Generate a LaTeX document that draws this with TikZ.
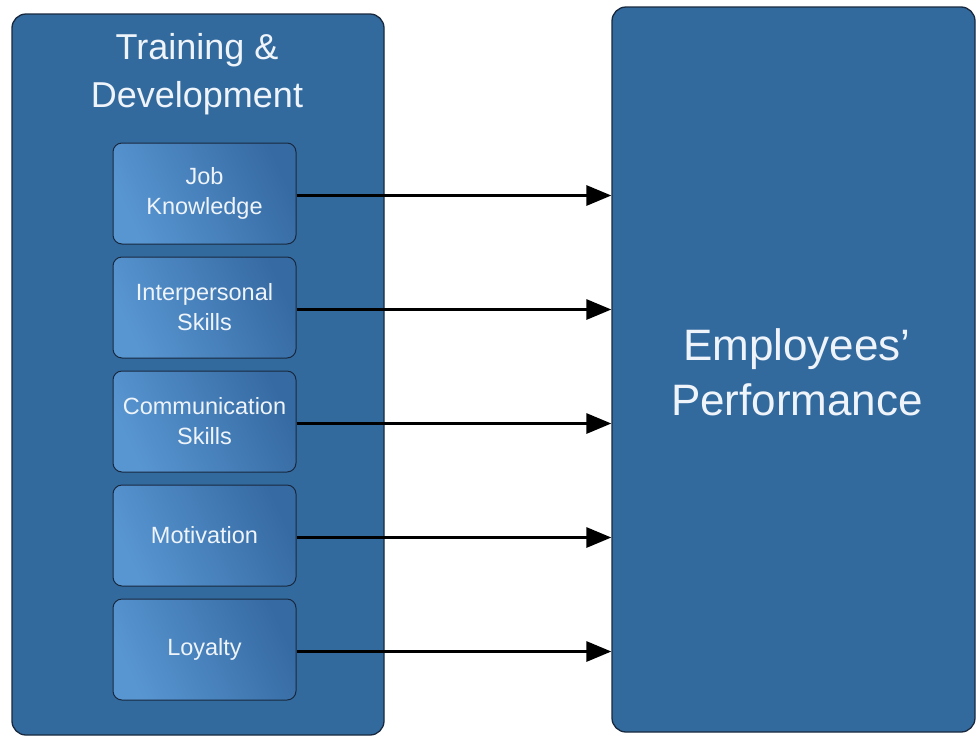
\documentclass[tikz,border=0pt]{standalone}
\usepackage{fontspec}
\setmainfont{Liberation Sans}
\usetikzlibrary{arrows.meta}
\definecolor{boxfill}{RGB}{51,106,158}
\definecolor{boxline}{RGB}{24,40,62}
\definecolor{lightblue}{RGB}{88,150,210}
\definecolor{darkblue}{RGB}{54,106,162}
\definecolor{txt}{RGB}{238,244,250}
\tikzset{
  bigbox/.style={draw=boxline, line width=1.3pt, fill=boxfill, rounded corners=14pt, rectangle},
  itembox/.style={draw=boxline, line width=1pt, rounded corners=9pt, rectangle,
    left color=lightblue, right color=darkblue, shading angle=115,
    minimum width=183pt, minimum height=101pt, inner sep=0pt,
    text=txt, align=center, font=\fontsize{23.5}{30}\selectfont},
  conn/.style={line width=3pt, -{Triangle[length=25pt,width=20pt]}}
}
\begin{document}
\begin{tikzpicture}[x=1pt,y=-1pt]
\useasboundingbox (0,0) rectangle (976,737);
\node[bigbox, minimum width=372pt, minimum height=721pt] (td) at (198,374.5) {};
\node[bigbox, minimum width=363pt, minimum height=725pt] (perf) at (793.5,369.5) {};
\node[text=txt, align=center, font=\fontsize{36}{48}\selectfont] (title) at (197,74) {Training \&\\Development};
\node[text=txt, align=center, font=\fontsize{44}{55}\selectfont] (perftext) at (797,372) {Employees’\\Performance};
\node[itembox] (jk) at (204.5,193.5) {Job\\Knowledge};
\node[itembox] (ip) at (204.5,307.5) {Interpersonal\\Skills};
\node[itembox] (cs) at (204.5,421.5) {Communication\\Skills};
\node[itembox] (mo) at (204.5,535.5) {Motivation};
\node[itembox] (lo) at (204.5,649.5) {Loyalty};
\foreach \n in {jk,ip,cs,mo,lo}{
  \draw[conn] ([yshift=-2pt]\n.east) -- ([yshift=-2pt]\n.east -| perf.west);
}
\end{tikzpicture}
\end{document}
